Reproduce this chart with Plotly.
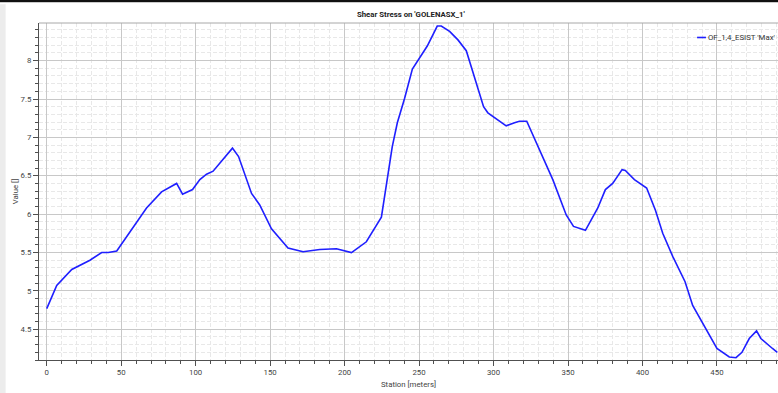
import plotly.graph_objects as go

# station [m] and max shear stress
station = [0, 6.7, 16.8, 29, 36.9, 41.3, 47, 55.9, 67, 77.1, 87.2, 91.2, 97.9,
           102.8, 107.3, 111.7, 117.4, 124.7, 128.8, 137.5, 143, 150.9, 162,
           172.1, 183.3, 194.5, 204.6, 214.6, 224.7, 229.1, 232, 235.4, 240.3,
           245.5, 255.5, 262.2, 264.9, 270.5, 276.1, 281.7, 287.9, 293.3,
           296.2, 308.5, 314.1, 317.4, 322.3, 327.5, 339.8, 348.8, 353.7,
           361.7, 370, 375.1, 380, 386.3, 388.5, 394.6, 401.3, 402.8, 408.7,
           413.6, 420.3, 425.9, 428.6, 433.7, 442.7, 450, 458.3, 462.8, 466.8,
           471.7, 476.6, 479.5, 487.3, 490.5]
value = [4.77, 5.07, 5.28, 5.40, 5.50, 5.50, 5.52, 5.77, 6.08, 6.29, 6.40, 6.26,
         6.32, 6.45, 6.52, 6.56, 6.69, 6.86, 6.75, 6.27, 6.12, 5.81, 5.56,
         5.51, 5.54, 5.55, 5.50, 5.64, 5.96, 6.49, 6.88, 7.19, 7.51, 7.89,
         8.19, 8.45, 8.45, 8.38, 8.27, 8.13, 7.75, 7.40, 7.32, 7.15, 7.19,
         7.21, 7.21, 6.99, 6.45, 5.99, 5.84, 5.79, 6.08, 6.32, 6.40, 6.58,
         6.57, 6.45, 6.35, 6.34, 6.05, 5.75, 5.45, 5.22, 5.12, 4.81, 4.49,
         4.25, 4.14, 4.13, 4.20, 4.38, 4.48, 4.38, 4.25, 4.20]

series_name = "OF_1,4_ESIST 'Max'"
font = "Roboto, Lato, sans-serif"

fig = go.Figure()
fig.add_trace(go.Scatter(x=station, y=value, mode='lines', name=series_name,
                         line=dict(color='#1f1fff', width=1.6), showlegend=False))

axis_common = dict(showline=True, linecolor='#505050', linewidth=1,
                   ticks='outside', ticklen=5, tickcolor='#505050',
                   gridcolor='#c8c8c8', gridwidth=1, zeroline=False,
                   automargin=False,
                   tickfont=dict(size=7.8, color='#444', family=font),
                   title_font=dict(size=7.8, color='#444', family=font))

minor_common = dict(showgrid=True, griddash='4px,2px', gridcolor='#e8e8e8',
                    ticks='outside', ticklen=3, tickcolor='#505050')

fig.update_xaxes(range=[-5.2, 491], dtick=50, title_text='Station [meters]',
                 title_standoff=5, minor=dict(dtick=10, **minor_common),
                 **axis_common)
fig.update_yaxes(range=[4.1, 8.49], dtick=0.5, title_text='Value []',
                 title_standoff=0, minor=dict(dtick=0.1, **minor_common),
                 **axis_common)

# frame and window decorations
fig.add_shape(type='line', xref='paper', yref='paper', x0=0, x1=1, y0=1, y1=1,
              line=dict(color='#a8a8a8', width=1))
fig.add_shape(type='rect', xref='paper', yref='paper', x0=-0.06, x1=1.0,
              y0=1.0625, y1=1.08, fillcolor='#111111',
              line=dict(color='#111111', width=0.5), layer='above')
fig.add_shape(type='rect', xref='paper', yref='paper', x0=-0.06, x1=-0.0455,
              y0=-0.11, y1=1.055, fillcolor='#ececec',
              line=dict(color='#ececec', width=0.5), layer='above')

# legend swatch and label
fig.add_shape(type='line', xref='paper', yref='paper', x0=0.8905, x1=0.9025,
              y0=0.957, y1=0.957, line=dict(color='#1f1fff', width=1.6))
fig.add_annotation(text=series_name, xref='paper', yref='paper', x=0.903,
                   y=0.957, xanchor='left', yanchor='middle', showarrow=False,
                   font=dict(size=7.8, color='#333', family=font))

fig.update_layout(
    width=778, height=393,
    margin=dict(l=39, r=0, t=23, b=33),
    paper_bgcolor='white', plot_bgcolor='white',
    title=dict(text="<b>Shear Stress on 'GOLENASX_1'</b>", x=0.528, xanchor='center',
               y=0.963, yanchor='middle',
               font=dict(size=7.8, color='#222', family=font)),
)

# page body has an 8px default margin; drop it so the figure sits at (0, 0)
fig.write_html("out.html", config={'displayModeBar': False},
               post_script="document.body.style.margin='0';")
